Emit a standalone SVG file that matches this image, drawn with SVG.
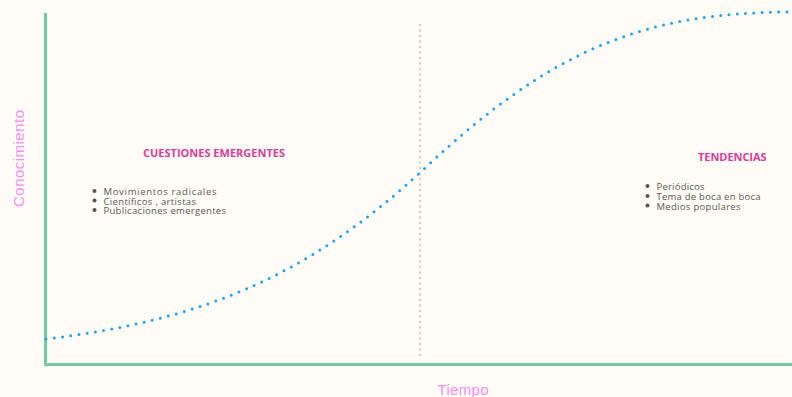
<svg xmlns="http://www.w3.org/2000/svg" width="792" height="397" viewBox="0 0 792 397">
<style>
.axis{stroke:#72cca0;stroke-width:3;fill:none}
.head{font-family:"Open Sans","Liberation Sans",sans-serif;font-weight:bold;font-size:11px;fill:#d93d97}
.item{font-family:"Open Sans","Liberation Sans",sans-serif;font-size:9.5px;fill:#5a5a5a}
.lab{font-family:"Liberation Sans",sans-serif;font-size:15px;fill:#f98ef2}
.bul{fill:#555}
</style>
<rect width="792" height="397" fill="#fffbf6"/>
<g id="axes">
<polyline class="axis" points="45.5,13 45.5,364.5 792,364.5"/>
<text class="lab" x="463" y="395" text-anchor="middle" textLength="51">Tiempo</text>
<text class="lab" transform="translate(24,158.5) rotate(-90)" text-anchor="middle" textLength="97">Conocimiento</text>
</g>
<g id="connectors">
<line x1="420" y1="25" x2="420" y2="358" stroke="#d0d0d0" stroke-width="2.5" stroke-dasharray="0 5.5" stroke-linecap="round"/>
<path d="M46,339 C196,321 305,280 425,168 C550,51 642,12 792,12" fill="none" stroke="#22a2f2" stroke-width="3" stroke-dasharray="0 8.3" stroke-linecap="round"/>
</g>
<g id="emergentes">
<text class="head" x="143" y="157" textLength="142">CUESTIONES EMERGENTES</text>
<circle class="bul" cx="94.5" cy="191" r="2"/>
<circle class="bul" cx="94.5" cy="200.5" r="2"/>
<circle class="bul" cx="94.5" cy="210" r="2"/>
<text class="item" x="103.5" y="195" textLength="113">Movimientos radicales</text>
<text class="item" x="103.5" y="204.5" textLength="92.5">Científicos , artistas</text>
<text class="item" x="103.5" y="214" textLength="122.5">Publicaciones emergentes</text>
</g>
<g id="tendencias">
<text class="head" x="698" y="160.5" textLength="68.5">TENDENCIAS</text>
<circle class="bul" cx="647.5" cy="186" r="2"/>
<circle class="bul" cx="647.5" cy="196" r="2"/>
<circle class="bul" cx="647.5" cy="205.5" r="2"/>
<text class="item" x="656.5" y="190" textLength="48">Periódicos</text>
<text class="item" x="656.5" y="200" textLength="104">Tema de boca en boca</text>
<text class="item" x="656.5" y="209.5" textLength="84">Medios populares</text>
</g>
</svg>
